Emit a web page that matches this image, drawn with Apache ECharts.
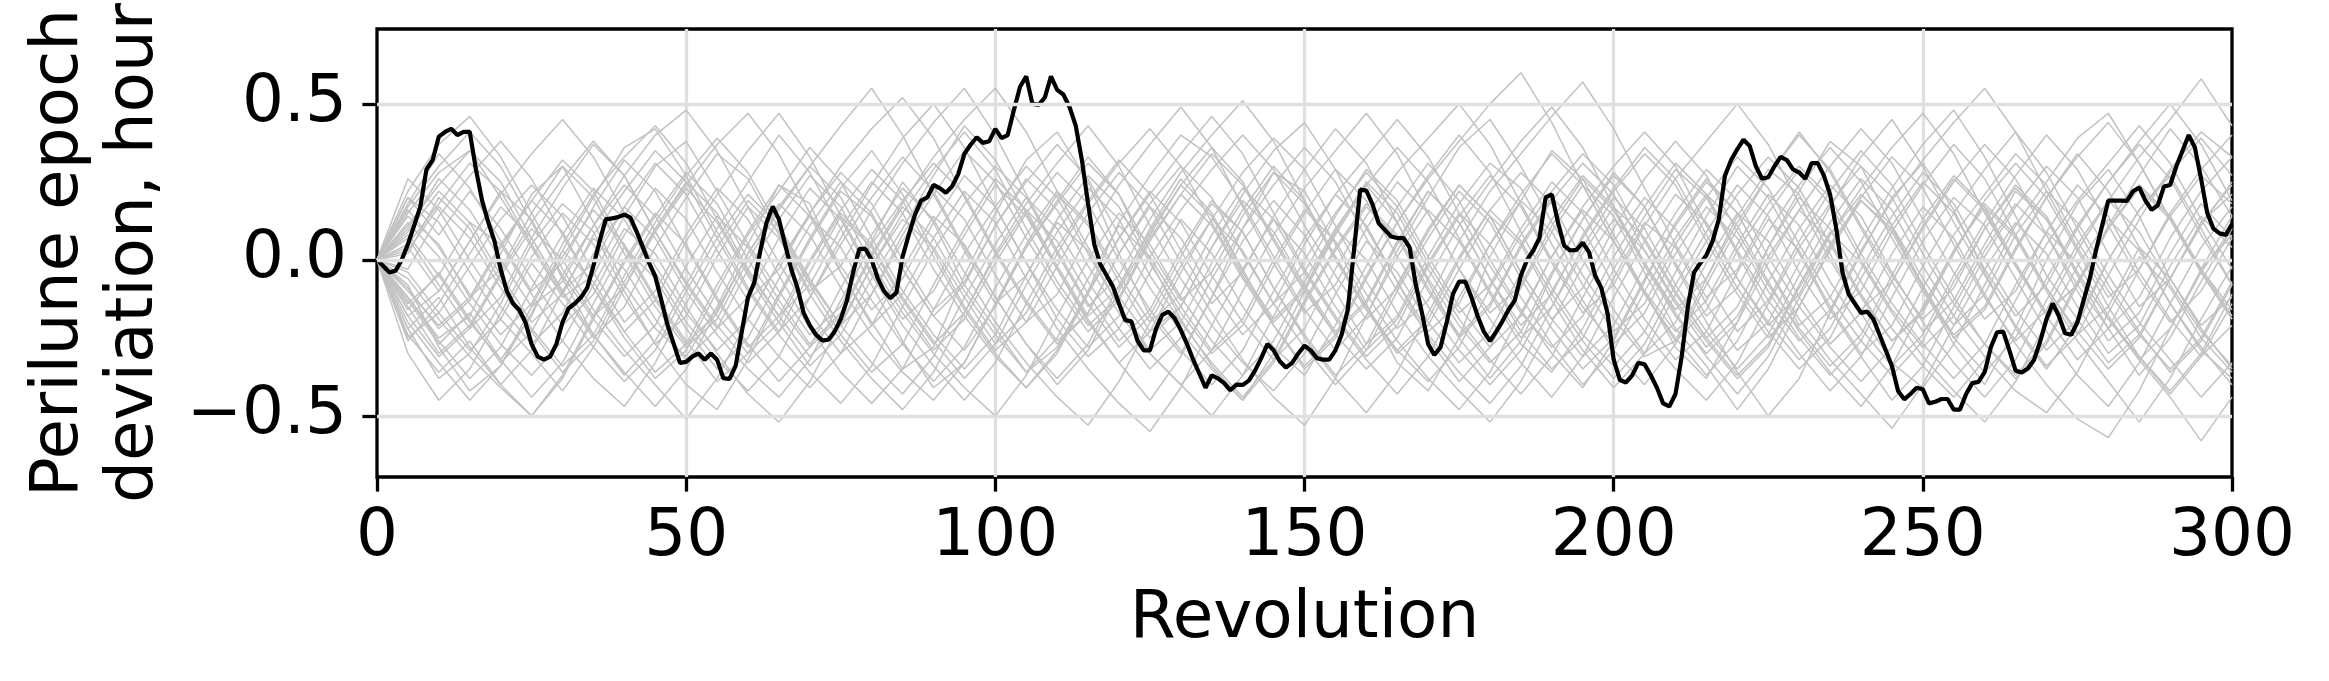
<!DOCTYPE html>
<html>
<head>
<meta charset="utf-8">
<script src="https://cdn.jsdelivr.net/npm/echarts@6/dist/echarts.min.js"></script>
<style>html,body{margin:0;padding:0;background:#fff}#chart{width:2329px;height:681px}</style>
</head>
<body>
<div id="chart"></div>
<script>
// Nominal (black) trajectory: perilune epoch deviation (hour) per revolution 0..300
const nominalDeviation = [
0.00,-0.02,-0.04,-0.035,0.00,0.05,0.11,0.17,0.29,0.32,
0.395,0.41,0.42,0.40,0.41,0.41,0.29,0.19,0.12,0.06,
-0.03,-0.10,-0.14,-0.16,-0.20,-0.27,-0.31,-0.32,-0.31,-0.27,
-0.20,-0.155,-0.14,-0.12,-0.09,-0.02,0.06,0.13,0.133,0.137,
0.145,0.135,0.09,0.04,-0.01,-0.053,-0.13,-0.21,-0.27,-0.33,
-0.327,-0.31,-0.30,-0.32,-0.30,-0.32,-0.379,-0.382,-0.34,-0.23,
-0.12,-0.074,0.03,0.12,0.171,0.13,0.05,-0.03,-0.09,-0.17,
-0.21,-0.24,-0.258,-0.256,-0.23,-0.19,-0.13,-0.04,0.035,0.035,
0.00,-0.06,-0.10,-0.123,-0.105,0.01,0.08,0.145,0.19,0.20,
0.24,0.23,0.215,0.235,0.275,0.34,0.369,0.393,0.375,0.38,
0.42,0.39,0.40,0.48,0.555,0.588,0.50,0.497,0.52,0.588,
0.545,0.53,0.49,0.43,0.32,0.18,0.05,-0.015,-0.05,-0.085,
-0.14,-0.193,-0.197,-0.26,-0.29,-0.29,-0.22,-0.176,-0.166,-0.187,
-0.225,-0.27,-0.32,-0.365,-0.41,-0.37,-0.38,-0.395,-0.418,-0.40,
-0.401,-0.387,-0.355,-0.315,-0.27,-0.29,-0.325,-0.345,-0.33,-0.30,
-0.275,-0.29,-0.315,-0.32,-0.32,-0.29,-0.24,-0.16,0.03,0.225,
0.222,0.178,0.117,0.096,0.075,0.07,0.07,0.04,-0.08,-0.17,
-0.27,-0.305,-0.28,-0.20,-0.11,-0.07,-0.07,-0.12,-0.18,-0.23,
-0.26,-0.23,-0.197,-0.16,-0.13,-0.05,0.00,0.03,0.07,0.20,
0.21,0.12,0.045,0.03,0.032,0.055,0.025,-0.05,-0.09,-0.17,
-0.32,-0.385,-0.393,-0.37,-0.33,-0.335,-0.37,-0.41,-0.46,-0.47,
-0.43,-0.31,-0.15,-0.04,-0.011,0.015,0.06,0.13,0.27,0.32,
0.355,0.385,0.365,0.30,0.26,0.265,0.30,0.33,0.32,0.29,
0.28,0.26,0.31,0.31,0.27,0.21,0.10,-0.04,-0.11,-0.14,
-0.17,-0.166,-0.19,-0.24,-0.29,-0.34,-0.42,-0.447,-0.43,-0.41,
-0.415,-0.46,-0.455,-0.446,-0.446,-0.48,-0.48,-0.43,-0.395,-0.391,
-0.36,-0.28,-0.232,-0.23,-0.29,-0.355,-0.361,-0.348,-0.32,-0.26,
-0.19,-0.14,-0.18,-0.235,-0.24,-0.20,-0.13,-0.06,0.03,0.11,
0.19,0.19,0.19,0.189,0.22,0.232,0.19,0.16,0.175,0.235,
0.24,0.30,0.35,0.40,0.36,0.26,0.15,0.10,0.085,0.08,
0.115
];

// Revolutions at which the dispersed (gray) trajectories are sampled
const grayRevs = [0,5,10,15,20,25,30,35,40,45,50,55,60,65,70,75,80,85,90,95,100,105,110,115,120,125,130,135,140,145,150,155,160,165,170,175,180,185,190,195,200,205,210,215,220,225,230,235,240,245,250,255,260,265,270,275,280,285,290,295,300];

// Dispersed trajectories (hour)
const gray01 = [0,-.12,-.25,-.18,.02,.21,.30,.12,-.08,-.22,-.31,-.15,.05,.24,.18,-.04,-.20,-.35,-.28,-.05,.15,.32,.41,.25,.02,-.18,-.30,-.12,.10,.28,.22,.05,-.14,-.33,-.42,-.25,.01,.19,.35,.26,.08,-.10,-.28,-.38,-.20,.04,.22,.38,.30,.11,-.09,-.27,-.40,-.22,.00,.18,.29,.14,-.06,-.21,-.12];
const gray02 = [0,.15,.28,.35,.20,.04,-.12,-.05,.14,.30,.38,.22,.05,-.10,-.24,-.15,.06,.25,.12,-.08,-.22,-.36,-.28,-.10,.12,.27,.40,.33,.18,.01,-.16,-.29,-.18,.03,.20,.36,.45,.30,.12,-.05,-.19,-.31,-.26,-.06,.14,.29,.21,.02,-.17,-.33,-.41,-.27,-.08,.11,.25,.39,.47,.31,.13,-.03,.08];
const gray03 = [0,-.22,-.38,-.30,-.14,.05,.18,.09,-.10,-.27,-.40,-.48,-.32,-.12,.06,.22,.14,-.03,-.18,-.29,-.15,.04,.19,.33,.21,.00,-.19,-.34,-.45,-.30,-.10,.08,.24,.12,-.07,-.25,-.38,-.26,-.05,.13,.28,.17,-.02,-.20,-.36,-.50,-.38,-.17,.02,.20,.31,.16,-.04,-.22,-.35,-.21,.00,.16,.27,.10,-.08];
const gray04 = [0,.08,-.05,-.20,-.32,-.18,.03,.20,.36,.42,.27,.09,-.09,-.23,-.12,.07,.24,.39,.50,.36,.17,-.01,-.19,-.31,-.22,-.04,.13,.02,-.15,-.28,-.37,-.21,-.02,.17,.31,.19,.00,-.16,-.30,-.41,-.26,-.07,.12,.26,.15,-.03,-.21,-.12,.06,.23,.37,.48,.33,.14,-.05,-.19,-.33,-.24,-.06,.12,.21];
const gray05 = [0,-.18,-.10,.06,.22,.13,-.06,-.24,-.37,-.26,-.08,.10,.25,.40,.28,.10,-.08,-.26,-.41,-.33,-.14,.05,.21,.11,-.07,-.23,-.15,.04,.21,.35,.44,.29,.10,-.07,-.25,-.39,-.28,-.09,.09,.24,.14,-.04,-.22,-.34,-.48,-.35,-.15,.03,.19,.10,-.08,-.25,-.16,.03,.20,.34,.22,.04,-.14,-.29,-.38];
const gray06 = [0,.20,.12,-.04,-.19,-.30,-.42,-.28,-.09,.09,.23,.12,-.05,-.20,-.34,-.24,-.06,.10,.27,.43,.32,.15,-.03,-.20,-.33,-.45,-.31,-.12,.06,.19,.08,-.10,-.27,-.18,.01,.18,.31,.23,.05,-.13,-.29,-.40,-.27,-.08,.10,.27,.41,.28,.10,-.07,-.23,-.13,.05,.22,.13,-.05,-.22,-.37,-.25,-.07,.10];
const gray07 = [0,-.08,-.28,-.42,-.34,-.17,.01,.16,.05,-.12,-.26,-.39,-.30,-.11,.07,.23,.35,.21,.03,-.15,-.29,-.20,-.02,.15,.28,.17,-.01,-.17,-.32,-.44,-.53,-.38,-.18,.01,.16,.06,-.11,-.27,-.36,-.22,-.03,.14,.29,.20,.02,-.16,-.30,-.42,-.31,-.12,.06,.20,.11,-.06,-.23,-.37,-.47,-.33,-.14,.04,.17];
const gray08 = [0,.10,.26,.16,.00,-.15,-.07,.11,.27,.40,.48,.35,.17,-.01,-.17,-.30,-.21,-.03,.14,.05,-.12,-.27,-.40,-.29,-.10,.08,.24,.36,.25,.07,-.09,-.24,-.14,.05,.22,.12,-.06,-.23,-.35,-.25,-.06,.12,.04,-.14,-.29,-.20,-.01,.17,.33,.45,.30,.12,-.05,-.21,-.34,-.24,-.05,.13,.29,.41,.33];
const gray09 = [0,-.14,-.05,.12,.05,-.11,-.26,-.38,-.47,-.33,-.14,.04,.19,.09,-.08,-.24,-.36,-.27,-.08,.10,.26,.16,-.02,-.18,-.09,.10,.26,.15,-.03,-.21,-.35,-.25,-.06,.12,.27,.40,.28,.09,-.09,-.24,-.34,-.23,-.04,.14,.30,.20,.02,-.16,-.31,-.45,-.34,-.15,.03,.18,.08,-.10,-.26,-.17,.02,.18,.07];
const gray10 = [0,.05,.18,.31,.22,.05,-.11,-.25,-.15,.04,.20,.34,.26,.08,-.10,-.02,.16,.31,.44,.55,.40,.21,.03,-.14,-.28,-.18,.01,.18,.09,-.09,-.24,-.37,-.27,-.08,.10,.24,.14,-.04,-.19,-.09,.10,.26,.38,.27,.09,-.08,-.22,-.34,-.24,-.05,.13,.27,.17,-.01,-.17,-.08,.11,.27,.42,.30,.14];
const gray11 = [0,-.25,-.17,-.02,.13,.24,.14,-.04,-.20,-.10,.08,.23,.13,-.05,-.22,-.36,-.46,-.35,-.16,.02,.17,.30,.20,.02,-.15,-.29,-.20,-.01,.16,.30,.19,.01,-.16,-.30,-.21,-.03,.14,.05,-.13,-.29,-.41,-.30,-.11,.06,.21,.33,.23,.05,-.12,-.26,-.17,.02,.19,.31,.20,.03,-.15,-.31,-.43,-.31,-.14];
const gray12 = [0,.12,.01,-.14,-.27,-.37,-.26,-.08,.10,.02,-.15,-.30,-.43,-.52,-.39,-.20,-.02,.13,.04,-.12,-.27,-.17,.02,.18,.31,.42,.30,.12,-.05,-.20,-.10,.09,.25,.15,-.03,-.19,-.32,-.43,-.31,-.12,.06,.20,.10,-.07,-.23,-.13,.06,.22,.35,.24,.05,-.12,-.27,-.38,-.27,-.08,.10,.24,.14,-.03,-.18];
const gray13 = [0,-.03,.14,.27,.38,.26,.08,-.09,-.23,-.13,.06,.21,.35,.47,.33,.14,-.04,-.19,-.10,.08,.24,.14,-.03,-.19,-.33,-.23,-.04,.13,.28,.39,.29,.11,-.07,-.22,-.13,.06,.22,.34,.46,.57,.42,.23,.05,-.12,-.03,.15,.29,.18,.00,-.16,-.28,-.18,.01,.17,.30,.20,.02,-.15,-.06,.12,.24];
const gray14 = [0,-.20,-.33,-.45,-.34,-.15,.03,-.07,-.23,-.36,-.27,-.08,.09,.24,.14,-.04,-.21,-.11,.07,.22,.12,-.06,-.22,-.35,-.46,-.55,-.41,-.21,-.03,.13,.02,-.15,-.29,-.19,-.01,.15,.05,-.12,-.27,-.40,-.29,-.10,.07,.21,.11,-.07,-.23,-.36,-.47,-.34,-.15,.03,.17,.07,-.10,-.26,-.39,-.52,-.38,-.19,-.02];
const gray15 = [0,.18,.34,.23,.06,-.10,-.01,.17,.32,.22,.04,-.13,-.28,-.18,.00,.16,.29,.19,.01,-.16,-.30,-.41,-.30,-.11,.07,.21,.34,.46,.34,.15,-.03,-.18,-.31,-.21,-.02,.14,.27,.17,-.01,-.17,-.08,.11,.26,.38,.50,.37,.18,.00,-.16,-.07,.11,.26,.16,-.02,-.18,-.32,-.22,-.03,.14,.27,.18];
const gray16 = [0,-.10,-.21,-.12,.05,.19,.09,-.09,-.25,-.38,-.29,-.10,.08,.22,.36,.25,.07,-.10,-.24,-.35,-.24,-.05,.12,.03,-.15,-.30,-.40,-.50,-.37,-.18,.00,.15,.28,.17,-.01,-.17,-.08,.10,.25,.15,-.03,-.19,-.32,-.23,-.04,.13,.03,-.15,-.30,-.21,-.02,.15,.29,.41,.28,.10,-.08,-.23,-.36,-.26,-.08];
const gray17 = [0,.07,-.08,-.22,-.12,.07,.23,.37,.27,.09,-.08,-.22,-.12,.07,.23,.13,-.05,-.21,-.34,-.45,-.33,-.14,.04,.19,.32,.21,.03,-.14,-.04,.14,.29,.42,.31,.12,-.06,-.21,-.33,-.23,-.04,.13,.27,.17,-.01,-.18,-.09,.09,.24,.36,.25,.07,-.10,-.25,-.36,-.25,-.06,.11,.25,.38,.50,.37,.19];
const gray18 = [0,-.30,-.45,-.35,-.17,.01,.15,.05,-.12,-.27,-.18,.01,.17,.07,-.11,-.26,-.38,-.48,-.36,-.17,.01,.16,.06,-.11,-.26,-.16,.03,.19,.09,-.09,-.25,-.38,-.49,-.36,-.17,.01,.16,.28,.18,.00,-.16,-.30,-.20,-.01,.15,.06,-.12,-.27,-.17,.02,.17,.07,-.11,-.27,-.40,-.51,-.57,-.42,-.22,-.04,.10];
const gray19 = [0,.02,.20,.10,-.07,-.22,-.34,-.24,-.05,.12,.27,.39,.28,.10,-.07,-.21,-.11,.08,.23,.13,-.05,-.20,-.11,.08,.24,.37,.49,.36,.17,-.01,-.17,-.08,.10,.25,.15,-.03,-.19,-.33,-.44,-.31,-.12,.06,.21,.12,-.06,-.21,-.11,.08,.23,.36,.47,.34,.15,-.02,-.17,-.08,.10,.24,.14,-.03,-.16];
const gray20 = [0,-.15,-.30,-.21,-.04,.12,.26,.38,.27,.09,-.07,-.21,-.33,-.23,-.04,.14,.04,-.13,-.27,-.17,.02,.18,.31,.43,.30,.11,-.06,-.21,-.33,-.42,-.30,-.11,.06,-.04,-.20,-.33,-.23,-.04,.13,.27,.17,-.01,-.17,-.31,-.43,-.31,-.12,.05,.19,.09,-.09,-.24,-.15,.04,.20,.33,.44,.31,.13,-.04,-.19];
const gray21 = [0,.22,.37,.46,.33,.15,-.03,-.18,-.09,.10,.25,.15,-.03,-.18,-.31,-.21,-.02,.15,.29,.41,.29,.10,-.07,-.21,-.12,.07,.21,.11,-.06,-.21,-.34,-.24,-.05,.12,.26,.38,.50,.60,.44,.24,.06,-.10,-.23,-.13,.05,.21,.11,-.07,-.22,-.34,-.24,-.05,.12,.27,.40,.29,.11,-.06,-.20,-.10,.07];
const gray22 = [0,-.06,-.19,-.31,-.41,-.50,-.37,-.18,.00,.15,.05,-.12,-.27,-.39,-.28,-.09,.08,.23,.13,-.04,-.20,-.33,-.44,-.53,-.39,-.20,-.02,.13,.03,-.14,-.28,-.40,-.29,-.10,.07,.22,.12,-.06,-.22,-.35,-.25,-.06,.11,.25,.15,-.03,-.19,-.32,-.43,-.54,-.40,-.21,-.03,.12,.02,-.15,-.30,-.21,-.02,.14,.04];
const gray23 = [0,.14,.05,-.12,-.03,.15,.30,.20,.02,-.15,-.28,-.19,.00,.16,.30,.43,.55,.40,.21,.03,-.14,-.05,.13,.27,.17,-.01,-.17,-.30,-.21,-.02,.15,.29,.19,.01,-.15,-.29,-.40,-.29,-.10,.07,.22,.34,.24,.06,-.11,-.25,-.15,.04,.20,.33,.23,.05,-.12,-.26,-.16,.03,.19,.33,.45,.58,.43];
const gray24 = [0,-.12,-.26,-.38,-.28,-.09,.08,.23,.13,-.04,-.20,-.32,-.42,-.31,-.12,.05,.20,.33,.22,.04,-.12,-.27,-.38,-.27,-.08,.09,.24,.14,-.04,-.19,-.09,.10,.24,.36,.25,.07,-.10,-.25,-.15,.04,.20,.10,-.08,-.23,-.35,-.24,-.05,.12,.26,.16,-.02,-.18,-.31,-.42,-.49,-.36,-.17,.01,-.09,-.25,-.36];
const gray25 = [0,.09,.22,.12,-.05,-.20,-.11,.08,.22,.35,.25,.07,-.10,-.24,-.36,-.46,-.34,-.15,.03,.18,.30,.20,.02,-.15,-.05,.13,.28,.40,.51,.38,.19,.01,-.15,-.29,-.19,.00,.16,.06,-.11,-.26,-.38,-.27,-.08,.09,.24,.14,-.04,-.19,-.10,.09,.24,.37,.26,.08,-.09,-.23,-.35,-.25,-.06,.11,.25];
const gray26 = [0,-.26,-.14,.02,.17,.07,-.10,-.24,-.36,-.47,-.35,-.16,.02,.17,.30,.20,.02,-.15,-.29,-.19,-.01,.15,.28,.18,.00,-.16,-.29,-.40,-.29,-.10,.07,.21,.11,-.07,-.23,-.14,.05,.21,.34,.24,.06,-.11,-.25,-.37,-.26,-.07,.10,.24,.14,-.04,-.20,-.33,-.44,-.32,-.13,.05,.19,.09,-.08,-.23,-.34];
const gray27 = [0,.04,-.10,.06,.21,.34,.45,.33,.15,-.02,-.17,-.29,-.19,-.01,.15,.28,.18,.00,-.16,-.07,.11,.26,.16,-.02,-.17,-.30,-.40,-.29,-.10,.08,.23,.35,.47,.34,.15,-.03,-.17,-.08,.11,.26,.16,-.02,-.18,-.30,-.20,-.01,.16,.30,.42,.31,.13,-.04,-.19,-.10,.09,.24,.14,-.04,-.19,-.31,-.21];
const gray28 = [0,-.18,-.31,-.22,-.05,.10,.00,-.16,-.29,-.40,-.51,-.38,-.19,-.01,.14,.04,-.13,-.27,-.39,-.28,-.09,.08,.22,.12,-.05,-.20,-.11,.08,.23,.13,-.04,-.19,-.32,-.43,-.31,-.12,.05,.19,.09,-.08,-.23,-.14,.05,.20,.33,.23,.05,-.12,-.26,-.37,-.26,-.07,.10,.23,.13,-.04,-.19,-.31,-.42,-.30,-.11];
const gray29 = [0,.16,.04,-.11,-.24,-.14,.05,.21,.33,.43,.31,.13,-.04,-.18,-.08,.10,.25,.15,-.03,-.18,-.31,-.41,-.29,-.10,.07,.22,.12,-.05,-.20,-.32,-.22,-.03,.14,.28,.39,.50,.37,.18,.00,-.15,-.27,-.17,.02,.17,.07,-.10,-.25,-.37,-.26,-.07,.10,.25,.37,.26,.08,-.08,-.22,-.12,.07,.22,.33];
const gray30 = [0,-.09,-.22,-.13,.04,.19,.32,.22,.04,-.13,-.27,-.17,.02,.18,.08,-.09,-.24,-.36,-.45,-.33,-.14,.04,.18,.31,.21,.03,-.13,-.04,.14,.28,.18,.00,-.16,-.29,-.39,-.28,-.09,.08,.22,.34,.24,.06,-.11,-.25,-.15,.04,.20,.10,-.07,-.22,-.34,-.44,-.32,-.13,.05,.19,.31,.43,.31,.13,-.03];
const gray31 = [0,.26,.16,.00,-.15,-.27,-.17,.02,.17,.07,-.10,-.24,-.35,-.44,-.32,-.13,.05,.19,.31,.21,.03,-.13,-.26,-.17,.02,.18,.30,.20,.02,-.14,-.04,.14,.29,.19,.01,-.15,-.28,-.18,.01,.17,.30,.41,.30,.11,-.06,-.20,-.32,-.22,-.03,.14,.28,.18,.00,-.16,-.29,-.19,.00,.16,.28,.39,.27];
const gray32 = [0,-.22,-.12,-.28,-.40,-.29,-.10,.07,-.03,-.19,-.32,-.22,-.03,.13,.27,.17,-.01,-.17,-.30,-.41,-.50,-.37,-.18,.00,.15,.05,-.12,-.26,-.37,-.26,-.07,.10,.00,-.17,-.31,-.42,-.52,-.39,-.20,-.02,.13,.03,-.14,-.28,-.18,.01,.16,.06,-.11,-.26,-.16,.03,.18,.08,-.09,-.24,-.15,.04,-.06,-.22,-.35];
const gray33 = [0,.11,.24,.35,.25,.07,-.10,-.01,.17,.31,.21,.03,-.13,-.03,.15,.30,.42,.52,.39,.20,.02,-.14,-.27,-.17,.02,.17,.07,-.10,-.24,-.14,.05,.21,.33,.45,.33,.15,-.02,-.17,-.28,-.18,.01,.17,.31,.21,.03,-.13,-.26,-.16,.03,.19,.32,.44,.55,.41,.22,.04,-.12,-.03,.15,.29,.40];
const gray34 = [0,-.16,-.04,-.19,-.33,-.23,-.05,.11,.24,.14,-.03,-.18,-.30,-.20,-.01,.15,.05,-.12,-.26,-.38,-.27,-.08,.09,.23,.13,-.05,-.20,-.33,-.44,-.32,-.13,.04,.18,.08,-.09,-.24,-.14,.05,.20,.10,-.08,-.23,-.35,-.45,-.33,-.14,.04,.18,.30,.20,.02,-.14,-.27,-.37,-.26,-.07,.10,.23,.13,-.04,-.19];
const gray35 = [0,.03,.17,.07,-.09,-.23,-.36,-.26,-.07,.10,.24,.37,.47,.34,.15,-.02,-.16,-.06,.12,.27,.17,-.01,-.16,-.28,-.18,.01,.16,.29,.40,.29,.11,-.05,-.19,-.09,.09,.24,.14,-.04,-.19,-.31,-.21,-.02,.15,.29,.19,.01,-.15,-.28,-.39,-.28,-.09,.08,.21,.34,.24,.06,-.10,-.24,-.35,-.25,-.07];
const gray36 = [0,-.24,-.36,-.26,-.40,-.50,-.38,-.19,-.01,.14,.28,.18,.00,-.15,-.28,-.18,.01,.17,.07,-.10,-.24,-.36,-.25,-.06,.11,.01,-.15,-.29,-.19,.00,.16,.06,-.11,-.26,-.38,-.48,-.36,-.17,.01,.16,.06,-.11,-.26,-.16,.03,.18,.30,.20,.02,-.14,-.27,-.38,-.27,-.08,.09,-.01,-.18,-.32,-.44,-.58,-.44];
const gray37 = [0,.17,.30,.41,.30,.12,-.05,-.19,-.31,-.21,-.02,.14,.04,-.13,-.27,-.17,.02,.18,.33,.45,.55,.41,.22,.04,-.12,-.25,-.15,.04,.19,.09,-.08,-.23,-.13,.06,.22,.12,-.06,-.21,-.11,.08,.23,.36,.26,.08,-.09,-.23,-.35,-.25,-.06,.11,.25,.15,-.03,-.18,-.08,.10,.25,.37,.26,.08,-.08];
const gray38 = [0,-.04,-.17,-.29,-.19,-.01,-.14,-.28,-.39,-.29,-.10,.07,.21,.11,-.06,-.21,-.33,-.43,-.31,-.12,.05,.20,.10,-.07,-.22,-.35,-.25,-.06,.10,.24,.36,.25,.07,-.10,-.24,-.36,-.46,-.34,-.15,.02,.17,.07,-.10,-.25,-.37,-.27,-.08,.09,-.01,-.17,-.31,-.42,-.52,-.39,-.20,-.02,.13,.03,-.14,-.28,-.40];
const gray39 = [0,.20,.08,.22,.10,-.06,-.21,-.11,.08,.23,.13,-.04,-.19,-.31,-.41,-.30,-.11,.06,.21,.35,.25,.07,-.09,-.23,-.13,.06,.21,.34,.24,.06,-.10,-.24,-.35,-.25,-.06,.11,.25,.38,.49,.36,.17,-.01,-.16,-.06,.12,.27,.40,.29,.11,-.05,-.19,-.09,.10,.24,.14,-.04,-.19,-.32,-.22,-.03,.14];
const gray40 = [0,-.13,-.27,-.17,-.32,-.44,-.33,-.14,.04,-.06,-.22,-.35,-.25,-.06,.11,.25,.15,-.03,-.18,-.08,.11,.25,.37,.26,.08,-.09,-.23,-.35,-.45,-.33,-.14,.03,.17,.07,-.10,-.25,-.15,.04,.19,.31,.21,.03,-.13,-.26,-.38,-.28,-.09,.08,.21,.11,-.06,-.21,-.11,.08,.22,.12,-.05,-.20,-.32,-.44,-.33];

const grayRuns = [gray01,gray02,gray03,gray04,gray05,gray06,gray07,gray08,gray09,gray10,
  gray11,gray12,gray13,gray14,gray15,gray16,gray17,gray18,gray19,gray20,
  gray21,gray22,gray23,gray24,gray25,gray26,gray27,gray28,gray29,gray30,
  gray31,gray32,gray33,gray34,gray35,gray36,gray37,gray38,gray39,gray40];

const xTicks = [0, 50, 100, 150, 200, 250, 300];
const yTicks = [-0.5, 0.0, 0.5];
const xLabel = 'Revolution';
const yLabel = 'Perilune epoch\ndeviation, hour';

const FONT = 'DejaVu Sans';
const FS = 66;

const chart = echarts.init(document.getElementById('chart'), null, {renderer: 'canvas'});

const series = [];
// horizontal grid lines (matplotlib-style grid under the data)
series.push({
  type: 'line', data: [], z: 1, silent: true,
  markLine: {
    silent: true, symbol: ['none', 'none'], label: {show: false},
    lineStyle: {color: '#e0e0e0', width: 3.3, type: 'solid'},
    emphasis: {disabled: true},
    data: yTicks.map(v => ({yAxis: v}))
  }
});
grayRuns.forEach((run, k) => {
  series.push({
    type: 'line', name: 'run' + (k + 1), z: 2, silent: true,
    showSymbol: false, symbol: 'none',
    lineStyle: {color: '#c2c2c2', width: 1.5},
    data: run.map((v, i) => [grayRevs[i], v])
  });
});
series.push({
  type: 'line', name: 'nominal', z: 3, silent: true,
  showSymbol: false, symbol: 'none',
  lineStyle: {color: '#000000', width: 4.2},
  data: nominalDeviation.map((v, i) => [i, v])
});

chart.setOption({
  animation: false,
  backgroundColor: '#ffffff',
  textStyle: {fontFamily: FONT},
  grid: {left: 377, right: 97, top: 29, bottom: 204, show: true,
         borderColor: '#000', borderWidth: 3.3, backgroundColor: 'transparent'},
  xAxis: {
    type: 'value', min: 0, max: 300, interval: 50,
    name: xLabel, nameLocation: 'middle', nameGap: 110,
    nameTextStyle: {fontSize: FS, color: '#000', fontFamily: FONT},
    axisLine: {show: false, onZero: false},
    axisTick: {show: true, inside: false, length: 14.6, lineStyle: {color: '#000', width: 3.3}},
    axisLabel: {fontSize: FS, color: '#000', fontFamily: FONT, margin: 28,
                formatter: v => String(v)},
    splitLine: {show: true, showMinLine: false, showMaxLine: false,
                lineStyle: {color: '#e0e0e0', width: 3.3}}
  },
  yAxis: {
    type: 'value', min: -0.696, max: 0.74,
    name: yLabel, nameLocation: 'middle', nameRotate: 90, nameGap: 205,
    nameTextStyle: {fontSize: FS, color: '#000', fontFamily: FONT, lineHeight: 75, align: 'center'},
    axisLine: {show: false, onZero: false},
    axisTick: {show: true, inside: false, length: 14.6, customValues: yTicks,
               lineStyle: {color: '#000', width: 3.3}},
    axisLabel: {fontSize: FS, color: '#000', fontFamily: FONT, margin: 30, customValues: yTicks,
                formatter: v => (v < 0 ? '\u2212' : '') + Math.abs(v).toFixed(1)},
    splitLine: {show: false}
  },
  series: series
});
</script>
</body>
</html>
